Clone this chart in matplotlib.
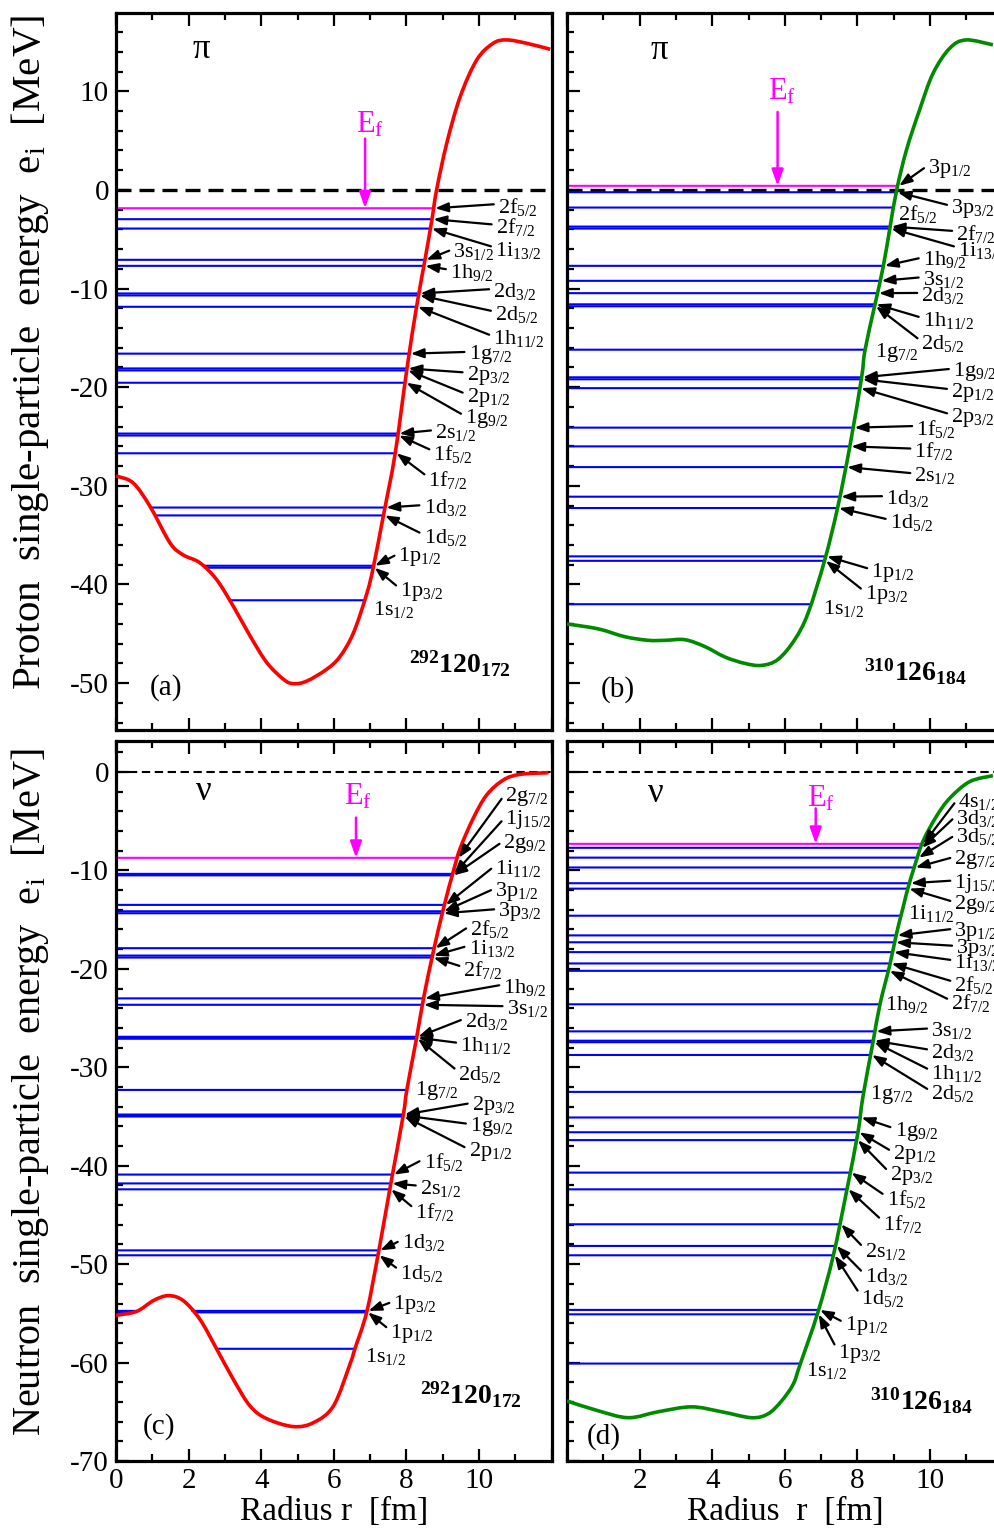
import numpy as np
import matplotlib.pyplot as plt
from matplotlib.ticker import MultipleLocator
from matplotlib.path import Path
from matplotlib.patches import PathPatch

plt.rcParams['font.family'] = ['Liberation Serif', 'DejaVu Serif']
plt.rcParams['mathtext.fontset'] = 'custom'
plt.rcParams['mathtext.rm'] = 'Liberation Serif'
plt.rcParams['mathtext.it'] = 'Liberation Serif:italic'
plt.rcParams['mathtext.bf'] = 'Liberation Serif:bold'
plt.rcParams['axes.unicode_minus'] = False

# ---- potentials (r in fm, V in MeV) ----
r_a = [0.0, 0.47, 0.94, 1.49, 1.85, 2.31, 2.77, 3.23, 3.69, 4.15, 4.61, 4.88, 5.25, 5.80, 6.17,
       6.54, 6.91, 7.09, 7.36, 7.69, 8.01, 8.28, 8.51, 8.70, 8.83, 9.11, 9.48, 9.94, 10.39, 10.76,
       11.31, 11.96]
v_a = [-29.0, -29.7, -32.1, -35.8, -37.0, -37.8, -39.5, -42.2, -45.2, -47.9, -49.6, -50.05, -49.8,
       -48.6, -47.3, -44.9, -40.9, -38.2, -33.1, -26.7, -18.2, -11.8, -7.09, -3.04, 0.0, 4.73, 9.45,
       13.2, 14.86, 15.2, 14.86, 14.25]

r_b = [0.0, 0.86, 1.60, 2.24, 2.70, 3.25, 3.80, 4.35, 4.90, 5.36, 5.81, 6.27, 6.64, 7.10, 7.46,
       7.79, 8.11, 8.21, 8.48, 8.71, 8.90, 9.08, 9.35, 9.71, 10.08, 10.54, 10.99, 11.73]
v_b = [-44.0, -44.5, -45.3, -45.66, -45.66, -45.6, -46.3, -47.35, -48.0, -48.2, -47.6, -45.6, -42.9,
       -37.5, -32.1, -26.0, -19.1, -16.2, -11.65, -7.77, -3.72, 0.0, 4.05, 8.1, 11.8, 14.35, 15.2,
       14.7]

r_c = [0.0, 0.57, 1.03, 1.44, 1.85, 2.31, 2.77, 3.23, 3.69, 4.15, 4.88, 5.44, 5.99, 6.45, 6.58,
       6.91, 7.23, 7.55, 7.91, 8.01, 8.28, 8.47, 8.74, 9.02, 9.29, 9.48, 9.84, 10.21, 10.67, 11.13,
       11.91]
v_c = [-55.2, -54.8, -53.7, -53.2, -53.7, -55.6, -58.6, -61.7, -64.4, -65.7, -66.5, -66.1, -64.4,
       -60.1, -58.6, -54.8, -48.8, -42.2, -34.9, -32.3, -27.0, -23.0, -18.25, -13.85, -10.1, -7.74,
       -4.7, -2.33, -0.81, -0.24, -0.07]

r_d = [0.0, 0.86, 1.69, 2.51, 3.43, 4.26, 5.08, 5.54, 5.91, 6.23, 6.41, 6.91, 7.33, 7.70, 8.01,
       8.15, 8.43, 8.62, 8.89, 9.07, 9.25, 9.39, 9.57, 9.80, 10.17, 10.54, 11.09, 11.73]
v_d = [-63.9, -64.9, -65.6, -65.0, -64.5, -65.0, -65.6, -65.2, -63.9, -62.2, -60.3, -54.9, -49.2,
       -42.6, -36.7, -33.0, -27.4, -23.6, -19.6, -16.5, -13.85, -11.8, -9.6, -7.07, -4.53, -2.67,
       -0.98, -0.37]

# ---- single-particle levels ----
names_a = ['2f5/2', '2f7/2', '1i13/2', '3s1/2', '1h9/2', '2d3/2', '2d5/2', '1h11/2', '1g7/2',
           '2p3/2', '2p1/2', '1g9/2', '2s1/2', '1f5/2', '1f7/2', '1d3/2', '1d5/2', '1p1/2',
           '1p3/2', '1s1/2']
e_a = [-1.86, -2.97, -3.92, -7.09, -7.70, -10.5, -10.7, -11.85, -16.6, -18.1, -18.3, -19.55,
       -24.7, -24.9, -26.7, -32.2, -33.0, -38.1, -38.3, -41.6]

names_b = ['3p1/2', '3p3/2', '2f5/2', '2f7/2', '1i13/2', '1h9/2', '3s1/2', '2d3/2', '1h11/2',
           '2d5/2', '1g7/2', '1g9/2', '2p1/2', '2p3/2', '1f5/2', '1f7/2', '2s1/2', '1d3/2',
           '1d5/2', '1p1/2', '1p3/2', '1s1/2']
e_b = [0.41, -0.24, -1.79, -3.72, -3.92, -7.70, -9.22, -10.47, -11.6, -11.8, -16.2, -19.0,
       -19.2, -20.1, -24.1, -26.0, -28.1, -31.1, -32.25, -37.15, -37.6, -42.0]

names_c = ['2g7/2', '1j15/2', '2g9/2', '1i11/2', '3p1/2', '3p3/2', '2f5/2', '1i13/2', '2f7/2',
           '1h9/2', '3s1/2', '2d3/2', '1h11/2', '2d5/2', '1g7/2', '2p3/2', '1g9/2', '2p1/2',
           '1f5/2', '2s1/2', '1f7/2', '1d3/2', '1d5/2', '1p3/2', '1p1/2', '1s1/2']
e_c = [-8.72, -10.35, -10.5, -13.5, -14.15, -14.35, -17.9, -18.65, -18.85, -23.0, -23.65,
       -26.9, -27.0, -27.1, -32.3, -34.8, -34.9, -35.0, -40.9, -41.8, -42.4, -48.6, -49.1,
       -54.75, -54.9, -58.6]

names_d = ['4s1/2', '3d3/2', '3d5/2', '2g7/2', '1j15/2', '2g9/2', '1i11/2', '3p1/2', '3p3/2',
           '1i13/2', '2f5/2', '2f7/2', '1h9/2', '3s1/2', '2d3/2', '1h11/2', '2d5/2', '1g7/2',
           '1g9/2', '2p1/2', '2p3/2', '1f5/2', '1f7/2', '2s1/2', '1d3/2', '1d5/2', '1p1/2',
           '1p3/2', '1s1/2']
e_d = [-7.3, -7.7, -8.7, -9.7, -11.3, -11.85, -14.6, -16.6, -17.3, -18.3, -19.45, -20.2, -23.6,
       -26.35, -27.3, -27.45, -28.75, -32.5, -35.1, -36.6, -37.4, -40.7, -42.4, -45.95, -48.15,
       -49.1, -54.65, -55.1, -60.1]

# ---- label layout (text positions in data coords) ----
pos_a = [(10.52, -1.7), (10.46, -3.8), (10.44, -6.1), (9.29, -6.25), (9.2, -8.36), (10.39, -10.3),
         (10.44, -12.6), (10.39, -15.1), (9.71, -16.7), (9.66, -18.8), (9.66, -21.0), (9.61, -23.2),
         (8.79, -24.6), (8.74, -26.75), (8.6, -29.4), (8.47, -32.2), (8.47, -35.2), (7.78, -37.15),
         (7.82, -40.7), (7.09, -42.55)]
pos_b = [(9.94, 2.2), (10.58, -1.9), (9.12, -2.4), (10.72, -4.45), (10.77, -6.1), (9.8, -7.1),
         (9.8, -9.1), (9.76, -10.7), (9.8, -13.25), (9.76, -15.6), (8.47, -16.5), (10.63, -18.4),
         (10.58, -20.5), (10.58, -23.05), (9.62, -24.2), (9.57, -26.5), (9.57, -29.0), (8.79, -31.3),
         (8.89, -33.7), (8.38, -38.75), (8.2, -41.0), (7.05, -42.45)]
pos_c = [(10.72, -2.5), (10.72, -4.87), (10.67, -7.3), (10.44, -9.77), (10.44, -12.1), (10.53, -14.2),
         (9.75, -15.9), (9.71, -17.9), (9.57, -20.1), (10.67, -21.85), (10.76, -24.05), (9.61, -25.3),
         (9.48, -27.8), (9.43, -30.7), (8.24, -32.35), (9.8, -33.9), (9.75, -36.05), (9.71, -38.6),
         (8.47, -39.6), (8.37, -42.3), (8.24, -44.7), (7.87, -47.8), (7.82, -50.9), (7.64, -54.06),
         (7.55, -57.0), (6.86, -59.4)]
pos_d = [(10.77, -2.95), (10.72, -4.7), (10.72, -6.6), (10.67, -8.9), (10.67, -11.3), (10.67, -13.5),
         (9.39, -14.4), (10.67, -16.2), (10.72, -17.95), (10.67, -19.4), (10.67, -21.6), (10.58, -23.5),
         (8.75, -23.6), (10.03, -26.3), (10.03, -28.5), (10.03, -30.6), (10.03, -32.7), (8.34, -32.8),
         (9.02, -36.5), (8.98, -38.9), (8.89, -41.0), (8.8, -43.4), (8.7, -45.9), (8.2, -48.7),
         (8.2, -51.3), (8.1, -53.5), (7.65, -56.25), (7.46, -59.1), (6.59, -60.8)]

noarrow_a = {'1s1/2'}
noarrow_b = {'2f5/2', '1g7/2', '1s1/2'}
noarrow_c = {'1g7/2', '1s1/2'}
noarrow_d = {'1i11/2', '1h9/2', '1g7/2', '1s1/2'}

W, H = 995, 1530
fig = plt.figure(figsize=(W / 100, H / 100), dpi=100)


def frac(x0, top, x1, bottom):
    return [x0 / W, 1 - bottom / H, (x1 - x0) / W, (bottom - top) / H]


def label(s):
    return r'$\mathrm{%s}_{%s}$' % (s[:2], s[2:])


def smooth_curve(ax, x, y, **kw):
    # smooth Bezier path through the read-off points
    p = np.column_stack([x, y])
    ext = np.vstack([p[0], p, p[-1]])
    verts = [p[0]]
    codes = [Path.MOVETO]
    for i in range(len(p) - 1):
        c1 = ext[i + 1] + (ext[i + 2] - ext[i]) / 6
        c2 = ext[i + 2] - (ext[i + 3] - ext[i + 1]) / 6
        verts += [c1, c2, ext[i + 2]]
        codes += [Path.CURVE4] * 3
    ax.add_patch(PathPatch(Path(verts, codes), fill=False, **kw))


def panel(rect, r, v, color, names, energies, pos, noarrow, ylim, top,
          particle, particle_xy, ef_text, ef_arrow, tag, tag_xy, nucleus, nuc_xy,
          xlabels, ylabels):
    ax = fig.add_axes(rect)
    ax.set_xlim(0, 12)
    ax.set_ylim(*ylim)

    if top:
        ax.axhline(0, color='k', lw=2.4, dashes=(4.5, 2.4), zorder=1)
    else:
        ax.axhline(0, color='k', lw=1.5, dashes=(4.0, 2.2), zorder=1)

    rr = np.linspace(0, 12, 4001)
    vv = np.interp(rr, r, v)
    efermi = max(energies)
    for name, e, (tx, ty) in zip(names, energies, pos):
        col = '#ff00ff' if e == efermi else '#0000ff'
        inside = vv <= e
        ax.plot(rr, np.where(inside, e, np.nan), color=col, lw=1.5, zorder=2)
        if name in noarrow:
            ax.text(tx, ty, label(name), fontsize=16, ha='left', va='center', zorder=5)
        else:
            rc = rr[inside].max()
            ax.annotate(label(name), xy=(rc + 0.04, e), xytext=(tx, ty), fontsize=16,
                        ha='left', va='center', zorder=5,
                        arrowprops=dict(arrowstyle='-|>,head_length=0.55,head_width=0.2',
                                        color='k', lw=1.6, mutation_scale=14,
                                        shrinkA=1, shrinkB=0, relpos=(0, 0.62)))

    smooth_curve(ax, r, v, edgecolor=color, lw=2.6, zorder=3, capstyle='butt')

    ax.text(*particle_xy, particle, fontsize=25, ha='center', va='center')
    ax.text(*ef_text, r'$\mathrm{E}_\mathrm{f}$', fontsize=22, color='#ff00ff',
            ha='center', va='center')
    ax.annotate('', xy=(ef_arrow[0], efermi), xytext=ef_arrow,
                arrowprops=dict(arrowstyle='-|>,head_length=0.7,head_width=0.25',
                                color='#ff00ff', lw=1.8, mutation_scale=14,
                                shrinkA=0, shrinkB=0))
    ax.text(*tag_xy, tag, fontsize=21, ha='center', va='center')
    ax.text(*nuc_xy, nucleus, fontsize=20, ha='center', va='center')

    ax.set_xticks(np.arange(0, 13, 2))
    ax.xaxis.set_minor_locator(MultipleLocator(1))
    ax.yaxis.set_major_locator(MultipleLocator(10))
    ax.yaxis.set_minor_locator(MultipleLocator(2))
    ax.tick_params(which='both', direction='in', top=True, right=False,
                   width=1.6, labelsize=21, pad=5)
    ax.tick_params(which='major', length=9)
    ax.tick_params(which='minor', length=5)
    if xlabels is None:
        ax.tick_params(labelbottom=False)
    else:
        ax.set_xticklabels(xlabels)
    if not ylabels:
        ax.tick_params(labelleft=False)
    for sp in ax.spines.values():
        sp.set_linewidth(2.3)
    return ax


nuc_a = r'${}^{\mathbf{292}}\mathbf{120}_{\mathbf{172}}$'
nuc_b = r'${}^{\mathbf{310}}\mathbf{126}_{\mathbf{184}}$'

panel(frac(116, 13, 551.7, 730), r_a, v_a, '#ff0000', names_a, e_a, pos_a, noarrow_a,
      (-54.75, 17.93), True, 'π', (2.34, 14.2), (7.0, 6.6), (6.86, 5.2), '(a)', (1.39, -50.45),
      nuc_a, (9.48, -48.0), None, True)
panel(frac(567, 13, 1002.7, 730), r_b, v_b, '#008a00', names_b, e_b, pos_b, noarrow_b,
      (-54.75, 17.93), True, 'π', (2.53, 14.1), (5.91, 9.9), (5.8, 7.9), '(b)', (1.40, -50.66),
      nuc_b, (9.6, -48.9), None, False)
panel(frac(116, 741, 551.7, 1461), r_c, v_c, '#ff0000', names_c, e_c, pos_c, noarrow_c,
      (-70, 3.15), False, 'ν', (2.42, -1.93), (6.67, -2.5), (6.61, -4.63), '(c)', (1.18, -66.5),
      nuc_a, (9.78, -63.3), ['0', '2', '4', '6', '8', '10', ''], True)
panel(frac(567, 741, 1002.7, 1461), r_d, v_d, '#008a00', names_d, e_d, pos_d, noarrow_d,
      (-70, 3.15), False, 'ν', (2.45, -2.2), (7.0, -2.75), (6.85, -3.7), '(d)', (1.0, -67.5),
      nuc_b, (9.77, -63.9), ['', '2', '4', '6', '8', '10', ''], False)

fig.text(30 / W, 1 - 352 / H, r'Proton  single-particle  energy  $\mathrm{e}_\mathrm{i}$  [MeV]',
         rotation=90, ha='center', va='center', fontsize=29.5)
fig.text(30 / W, 1 - 1092 / H, r'Neutron  single-particle  energy  $\mathrm{e}_\mathrm{i}$  [MeV]',
         rotation=90, ha='center', va='center', fontsize=29)
fig.text(334 / W, 1 - 1512 / H, 'Radius r  [fm]', ha='center', va='center', fontsize=24)
fig.text(785 / W, 1 - 1512 / H, 'Radius  r  [fm]', ha='center', va='center', fontsize=24)

fig.savefig('out.png', dpi=100)
